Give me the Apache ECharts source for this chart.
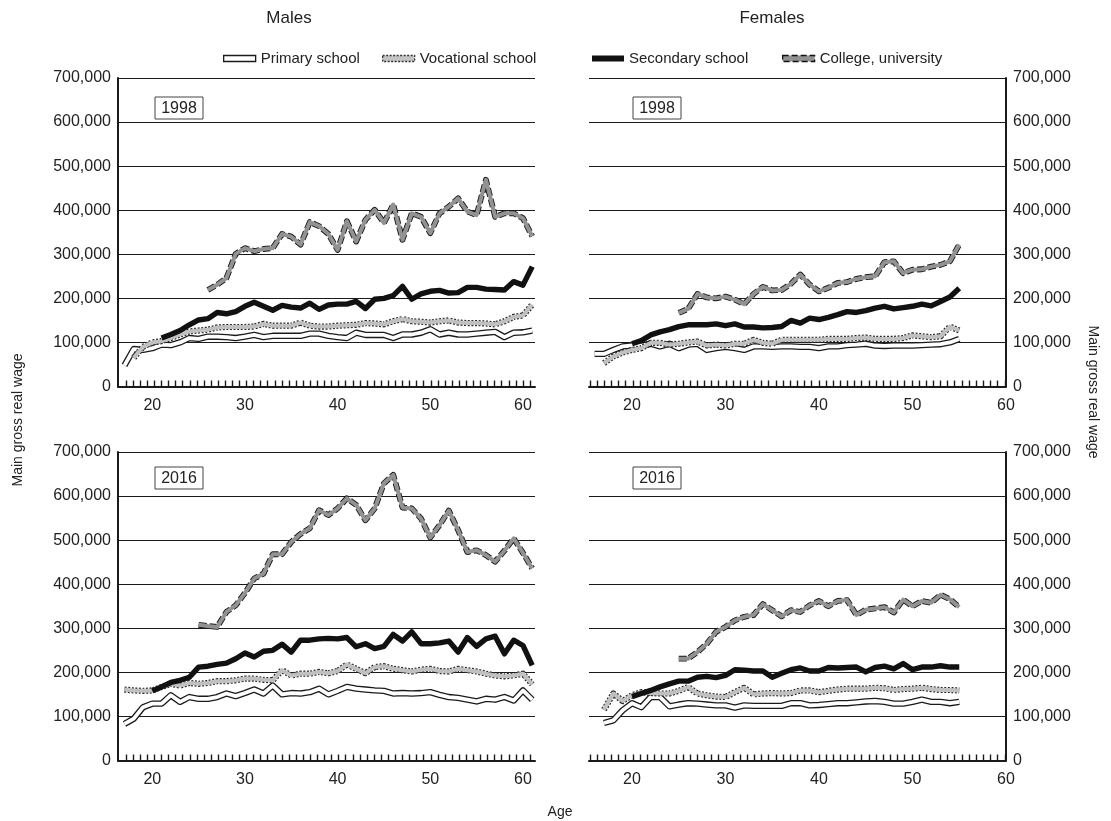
<!DOCTYPE html>
<html><head><meta charset="utf-8">
<script src="https://cdn.jsdelivr.net/npm/echarts@6/dist/echarts.min.js"></script>
<style>html,body{margin:0;padding:0;background:#fff}#c{width:1111px;height:821px}</style>
</head><body><div id="c"></div>
<script>
// ---------- labels ----------
const seriesNames = ['Primary school', 'Vocational school', 'Secondary school', 'College, university'];
const panelTitles = ['Males', 'Females'];
const yearLabels = ['1998', '2016'];
const xLabelAges = [20, 30, 40, 50, 60];
const yAxisName = 'Main gross real wage';
const xAxisName = 'Age';

// ---------- data (thousands of currency units), value i belongs to age start + i ----------
// Males 1998
const m98PrimaryStart = 17;
const m98Primary = [48,85,83,87,95,94,100,110,108,113,113,112,110,113,117,112,115,115,115,115,120,120,115,112,110,122,117,117,117,110,118,118,122,130,118,122,118,118,120,122,124,112,122,123,127];
const m98VocationalStart = 18;
const m98Vocational = [65,90,100,103,110,118,125,127,129,134,135,135,135,136,142,138,138,138,145,138,136,136,138,139,140,144,143,141,148,153,148,147,145,148,150,145,144,144,143,141,148,158,161,186];
const m98SecondaryStart = 21;
const m98Secondary = [110,118,127,140,151,154,168,165,170,182,191,182,173,184,180,178,189,175,185,187,187,193,177,198,200,206,227,198,210,216,218,212,213,225,225,221,220,219,238,230,272];
const m98CollegeStart = 26;
const m98College = [219,231,246,301,314,307,312,314,346,340,322,373,364,346,310,375,329,378,401,371,413,333,393,385,348,393,408,427,397,389,469,385,393,393,382,341];

// Females 1998
const f98PrimaryStart = 16;
const f98Primary = [74,74,83,91,93,93,97,91,97,87,95,97,83,87,90,87,83,91,91,90,91,91,90,90,87,91,91,94,95,97,93,92,93,93,93,94,95,96,100,108];
const f98VocationalStart = 17;
const f98Vocational = [53,68,77,83,87,99,99,95,97,100,102,93,95,93,97,97,106,99,97,106,106,106,106,106,108,108,108,110,111,108,108,108,110,116,114,112,114,136,127];
const f98SecondaryStart = 20;
const f98Secondary = [97,104,117,124,129,136,140,140,140,142,138,142,135,135,133,134,136,150,144,155,152,157,163,170,168,172,178,182,176,179,182,187,183,193,203,223];
const f98CollegeStart = 25;
const f98College = [167,176,210,202,200,204,197,187,210,226,218,219,233,254,231,216,224,235,237,244,248,250,282,284,257,265,266,272,276,284,322];

// Males 2016
const m16PrimaryStart = 17;
const m16Primary = [83,95,121,129,129,148,133,144,140,140,144,152,146,153,161,152,170,150,153,152,155,163,150,158,167,163,161,159,158,152,153,152,153,155,149,144,142,138,134,140,138,144,136,159,138];
const m16VocationalStart = 17;
const m16Vocational = [161,159,158,159,167,174,170,176,174,176,180,180,182,186,186,183,182,205,193,197,197,201,198,203,218,208,198,212,214,208,205,202,206,208,203,202,208,205,202,197,193,191,193,197,173];
const m16SecondaryStart = 20;
const m16Secondary = [158,167,177,182,189,212,214,218,221,231,244,235,248,250,264,246,273,273,276,277,276,279,258,265,254,259,286,271,292,265,265,267,271,246,279,259,276,282,242,273,261,216];
const m16CollegeStart = 25;
const m16College = [308,305,303,337,352,380,413,424,468,468,496,514,527,568,557,572,595,580,545,572,629,648,574,572,549,506,534,567,523,473,477,466,451,476,504,471,436];

// Females 2016
const f16PrimaryStart = 17;
const f16Primary = [85,91,114,130,121,144,144,123,127,130,129,127,125,125,120,125,124,124,124,124,130,130,125,126,128,130,130,132,134,135,133,129,129,133,138,133,133,130,133];
const f16VocationalStart = 17;
const f16Vocational = [115,152,135,148,155,153,152,152,158,167,152,148,145,144,155,165,150,152,153,152,153,159,159,155,158,161,163,163,163,165,164,160,162,163,165,162,160,160,159];
const f16SecondaryStart = 20;
const f16Secondary = [145,152,159,167,174,180,180,189,191,188,193,206,205,203,203,189,198,206,210,203,203,211,210,211,212,201,211,214,208,220,206,212,212,215,212,212];
const f16CollegeStart = 25;
const f16College = [231,231,246,265,292,303,318,326,330,355,341,327,341,337,352,362,350,362,364,330,342,345,348,336,365,350,362,358,376,366,348];

// ---------- build ----------
const FONT = '"Liberation Sans", Arial, sans-serif';
const INK = '#1a1a1a';
function pts(start, vals) { return vals.map((v, i) => [start + i, v * 1000]); }

const panels = [
  { grid: 0, p: [m98PrimaryStart, m98Primary], v: [m98VocationalStart, m98Vocational], s: [m98SecondaryStart, m98Secondary], c: [m98CollegeStart, m98College] },
  { grid: 1, p: [f98PrimaryStart, f98Primary], v: [f98VocationalStart, f98Vocational], s: [f98SecondaryStart, f98Secondary], c: [f98CollegeStart, f98College] },
  { grid: 2, p: [m16PrimaryStart, m16Primary], v: [m16VocationalStart, m16Vocational], s: [m16SecondaryStart, m16Secondary], c: [m16CollegeStart, m16College] },
  { grid: 3, p: [f16PrimaryStart, f16Primary], v: [f16VocationalStart, f16Vocational], s: [f16SecondaryStart, f16Secondary], c: [f16CollegeStart, f16College] }
];

const gridPos = [
  { left: 118, top: 78, width: 417, height: 308.5 },
  { left: 589, top: 78, width: 417, height: 308.5 },
  { left: 118, top: 452, width: 417, height: 308.5 },
  { left: 589, top: 452, width: 417, height: 308.5 }
];
const xRange = [[16.3, 61.3], [15.4, 60.0], [16.3, 61.3], [15.4, 60.0]];
const tickStart = [17.16, 15.5, 17.16, 15.5];
const tickStep = 0.765;

function tickList(i) {
  const out = [];
  for (let t = tickStart[i]; t <= xRange[i][1] + 1e-6; t += tickStep) out.push(+t.toFixed(3));
  return out;
}

const base = { type: 'line', symbol: 'none', showSymbol: false, silent: true, animation: false };
const series = [];
panels.forEach(pn => {
  const g = pn.grid;
  const ax = { xAxisIndex: g, yAxisIndex: g };
  const pd = pts(pn.p[0], pn.p[1]);
  const vd = pts(pn.v[0], pn.v[1]);
  const sd = pts(pn.s[0], pn.s[1]);
  const cd = pts(pn.c[0], pn.c[1]);
  series.push(Object.assign({}, base, ax, { name: 'p-edge', data: pd, lineStyle: { color: INK, width: 6.4, join: 'round' } }));
  series.push(Object.assign({}, base, ax, { name: seriesNames[0], data: pd, itemStyle: { color: '#fff' }, lineStyle: { color: '#fff', width: 3.8, join: 'round' } }));
  series.push(Object.assign({}, base, ax, { name: 'v-edge', data: vd, lineStyle: { color: '#2a2a2a', width: 6.2, type: [2, 1.6], join: 'round' } }));
  series.push(Object.assign({}, base, ax, { name: seriesNames[1], data: vd, itemStyle: { color: '#c0c0c0' }, lineStyle: { color: '#c0c0c0', width: 4, join: 'round' } }));
  series.push(Object.assign({}, base, ax, { name: seriesNames[2], data: sd, itemStyle: { color: '#111' }, lineStyle: { color: '#111', width: 5.4, join: 'round' } }));
  series.push(Object.assign({}, base, ax, { name: 'c-edge', data: cd, lineStyle: { color: '#1a1a1a', width: 5.8, type: [8, 3], join: 'round' } }));
  series.push(Object.assign({}, base, ax, { name: seriesNames[3], data: cd, itemStyle: { color: '#929292' }, lineStyle: { color: '#929292', width: 4, join: 'round' } }));
});

const xAxis = gridPos.map((_, i) => ({
  type: 'value', gridIndex: i, min: xRange[i][0], max: xRange[i][1],
  axisLine: { show: true, onZero: false, lineStyle: { color: INK, width: 2 } },
  axisTick: { show: true, inside: true, length: 6, customValues: tickList(i), lineStyle: { color: INK, width: 1.4 } },
  axisLabel: { customValues: xLabelAges, fontSize: 16, color: '#222', fontFamily: FONT, margin: 11 },
  splitLine: { show: false }
}));

const yAxis = gridPos.map((_, i) => ({
  type: 'value', gridIndex: i, min: 0, max: 700000, interval: 100000,
  position: (i % 2 === 0) ? 'left' : 'right',
  axisLine: { show: true, lineStyle: { color: INK, width: 2 } },
  axisTick: { show: false },
  axisLabel: { fontSize: 16, color: '#222', fontFamily: FONT, margin: 7,
    formatter: v => v.toLocaleString('en-US') },
  splitLine: { show: true, lineStyle: { color: INK, width: 1 } }
}));

const legendLeft = [218, 377, 587, 777];
const legendItemStyles = [
  { icon: 'rect', itemStyle: { color: '#fff', borderColor: INK, borderWidth: 1.3 } },
  { icon: 'rect', itemStyle: { color: '#c4c4c4', borderColor: '#333', borderWidth: 1.3, borderType: [2, 1.5] } },
  { icon: 'rect', itemStyle: { color: '#111', borderColor: '#111', borderWidth: 0 } },
  { icon: 'rect', itemStyle: { color: '#929292', borderColor: '#111', borderWidth: 1.3, borderType: [6, 3] } }
];
const legend = seriesNames.map((n, i) => ({
  left: legendLeft[i], top: 46, orient: 'horizontal', itemWidth: 32, itemHeight: 6, itemGap: 0,
  selectedMode: false,
  textStyle: { fontSize: 15, color: '#222', fontFamily: FONT },
  data: [Object.assign({ name: n }, legendItemStyles[i])]
}));

function txt(x, y, s, size, rot) {
  return { type: 'text', x: x, y: y, rotation: rot || 0, z: 100,
    style: { text: s, fill: '#222', font: size + 'px ' + FONT, align: 'center', verticalAlign: 'middle', textAlign: 'center', textVerticalAlign: 'middle' } };
}
function yearBox(x, y, s) {
  return { type: 'group', z: 100, children: [
    { type: 'rect', shape: { x: x, y: y, width: 48, height: 22 }, style: { fill: '#fff', stroke: '#444', lineWidth: 1 } },
    { type: 'text', x: x + 24, y: y + 11.5, style: { text: s, fill: '#222', font: '16px ' + FONT, align: 'center', verticalAlign: 'middle', textAlign: 'center', textVerticalAlign: 'middle' } }
  ]};
}

const graphic = [
  txt(289, 18, panelTitles[0], 17),
  txt(772, 18, panelTitles[1], 17),
  yearBox(155, 97, yearLabels[0]),
  yearBox(633, 97, yearLabels[0]),
  yearBox(155, 467, yearLabels[1]),
  yearBox(633, 467, yearLabels[1]),
  txt(18, 420, yAxisName, 14, Math.PI / 2),
  txt(1093, 392, yAxisName, 14, -Math.PI / 2),
  txt(560, 812, xAxisName, 14)
];

const chart = echarts.init(document.getElementById('c'), null, { renderer: 'canvas' });
chart.setOption({
  animation: false,
  backgroundColor: '#fff',
  grid: gridPos,
  xAxis: xAxis,
  yAxis: yAxis,
  legend: legend,
  graphic: graphic,
  series: series
});
</script>
</body></html>
